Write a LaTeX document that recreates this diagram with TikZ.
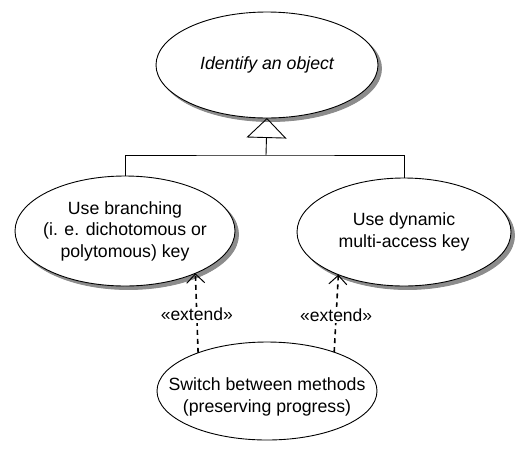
\documentclass[tikz,border=0pt]{standalone}
\usepackage{fontspec}
\setmainfont{Liberation Sans}
\usetikzlibrary{shapes.geometric,arrows.meta}
\begin{document}
\begin{tikzpicture}[x=1pt,y=-1pt,
  usecase/.style={ellipse, draw=black, line width=0.9pt, fill=white, inner sep=0pt, outer sep=0pt},
  ushadow/.style={ellipse, draw=black!45, line width=0.9pt, fill=black!45, inner sep=0pt, outer sep=0pt},
  txt/.style={align=center, inner sep=0pt, font=\fontsize{17.7}{21.5}\selectfont},
  ext/.style={line width=1.6pt, dash pattern=on 5pt off 4pt,
    -{Straight Barb[length=9pt,width=18pt,line width=1pt]}},
  lbl/.style={fill=white, inner sep=1.5pt, font=\fontsize{17.5}{21}\selectfont},
  gen/.style={line width=0.9pt}
]
\fill[white] (0,0) rectangle (516,453);
\useasboundingbox (0,0) rectangle (516,453);

% shadows (copies of the use-case ellipses, offset right and down)
\node[ushadow, minimum width=222pt, minimum height=106pt] (topsh) at (270.5,68.5) {};
\node[ushadow, minimum width=220pt, minimum height=110pt] (leftsh) at (128.5,234.5) {};
\node[ushadow, minimum width=214pt, minimum height=108pt] (rightsh) at (407.5,235.5) {};

\node[usecase, minimum width=222pt, minimum height=106pt] (top) at (267,65) {};
\node[txt, font=\fontsize{17.7}{21.5}\selectfont\itshape] (toptxt) at (top.center) {Identify an object};

\node[usecase, minimum width=220pt, minimum height=110pt] (left) at (125,231) {};
\node[txt] (lefttxt) at (left.center) {Use branching\\(i. e. dichotomous or\\polytomous) key};

\node[usecase, minimum width=214pt, minimum height=108pt] (right) at (404,232) {};
\node[txt] (righttxt) at (right.center) {Use dynamic\\multi-access key};

\node[usecase, minimum width=220pt, minimum height=98pt] (bottom) at (267,391) {};
\node[txt] (bottomtxt) at ([yshift=-6pt]bottom.center) {Switch between methods\\(preserving progress)};

% generalization
\coordinate (bar) at (266,155);
\draw[gen] (left.north) |- (bar) -| (right.north);
\draw[gen, -{Triangle[open, length=20pt, width=40pt, line width=0.9pt]}] (bar) -- (top.south);

% extend
\draw[ext] (bottom.151) -- node[lbl, pos=0.48] (e1) {«extend»} (left.-31.8);
\draw[ext] (bottom.30.2) -- node[lbl, pos=0.48] (e2) {«extend»} (right.-147.2);
\end{tikzpicture}
\end{document}
